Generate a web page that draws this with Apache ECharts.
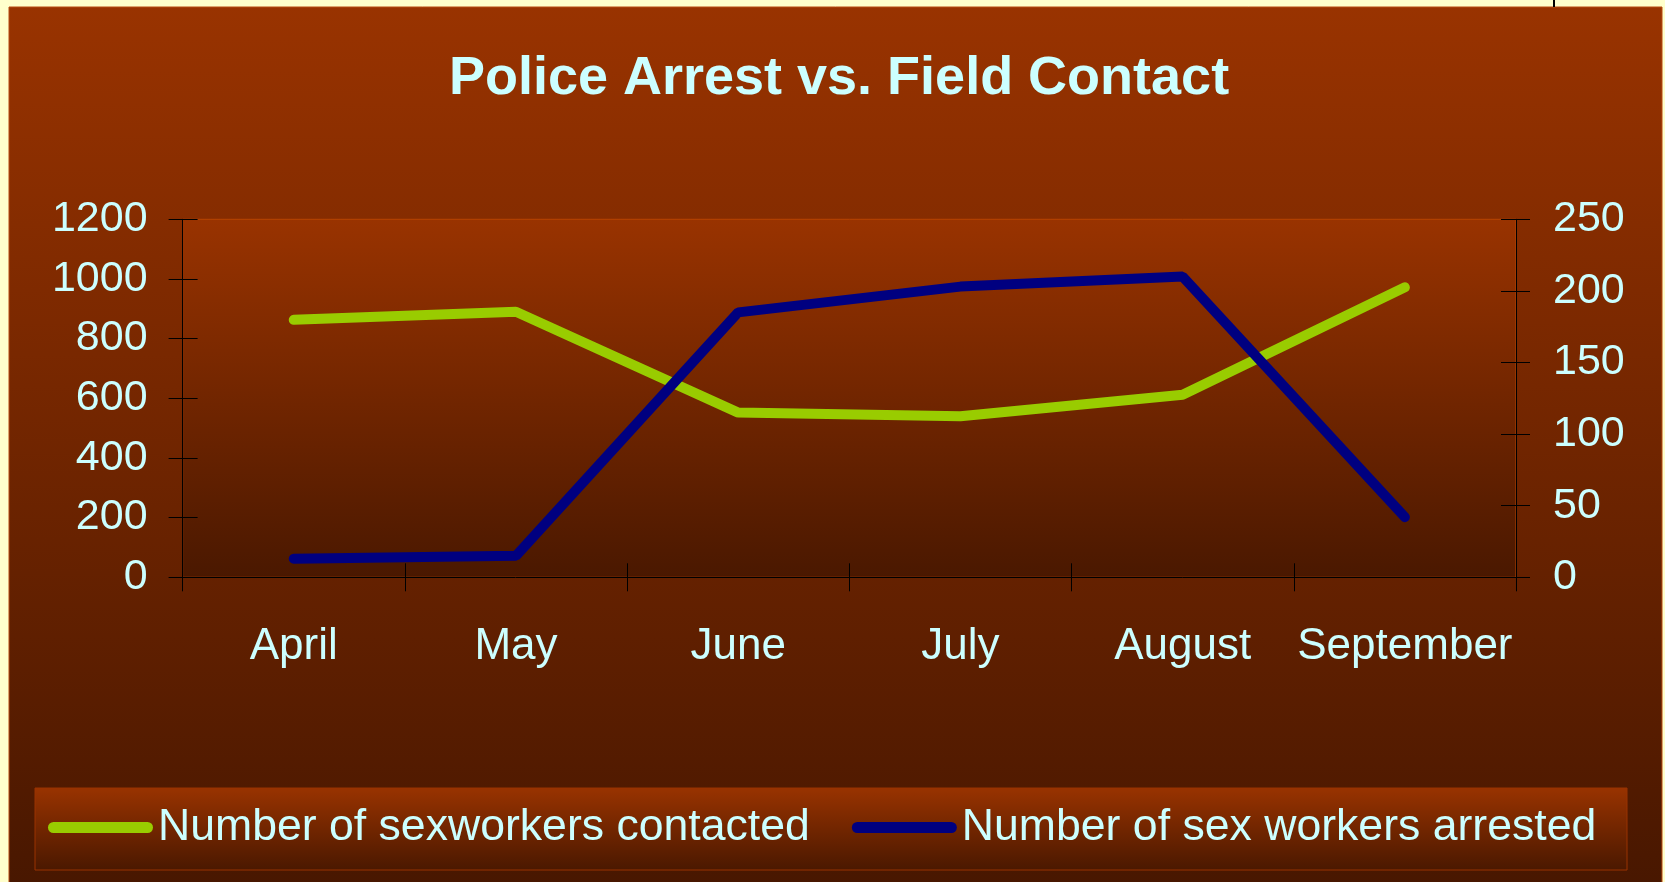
<!DOCTYPE html>
<html>
<head>
<meta charset="utf-8">
<script src="https://cdn.jsdelivr.net/npm/echarts@6/dist/echarts.min.js"></script>
<style>
html,body{margin:0;padding:0;background:#FFFFCC;}
#chart{width:1665px;height:882px;}
</style>
</head>
<body>
<div id="chart"></div>
<script>
const titleText = 'Police Arrest vs. Field Contact';
const months = ['April', 'May', 'June', 'July', 'August', 'September'];
const contactedName = 'Number of sexworkers contacted';
const arrestedName = 'Number of sex workers arrested';
const contacted = [863, 890, 552, 540, 612, 972];
const arrested = [13, 15, 185, 203, 210, 42];
const leftTicks = {min: 0, max: 1200, interval: 200};
const rightTicks = {min: 0, max: 250, interval: 50};

const FONT = '"Liberation Sans", Arial, sans-serif';
const TXT = '#CCFFFF';
const grad = (a, b) => ({type: 'linear', x: 0, y: 0, x2: 0, y2: 1,
  colorStops: [{offset: 0, color: a}, {offset: 1, color: b}]});

const chart = echarts.init(document.getElementById('chart'), null, {renderer: 'canvas'});

function yAx(t, pos, inside, labels, margin) {
  return {
    type: 'value', position: pos, min: t.min, max: t.max, interval: t.interval,
    axisLine: {show: !inside, lineStyle: {color: '#000', width: 1}},
    axisTick: {show: true, inside: inside, length: inside ? 15 : 14, lineStyle: {color: '#000', width: 1}},
    axisLabel: {show: labels, color: TXT, fontFamily: FONT, fontSize: 43, margin: margin,
                formatter: v => String(v)},
    splitLine: {show: false}
  };
}

chart.setOption({
  backgroundColor: '#FFFFCC',
  animation: false,
  graphic: [
    {type: 'rect', z: -100, shape: {x: 9, y: 7, width: 1653, height: 880},
     style: {fill: grad('#993300', '#481700'), stroke: '#b84a10', lineWidth: 1}},
    {type: 'rect', z: -90, shape: {x: 35, y: 788, width: 1592, height: 82},
     style: {fill: grad('#993300', '#4a1800'), stroke: '#993300', lineWidth: 1}},
    {type: 'line', z: -80, shape: {x1: 1554, y1: 0, x2: 1554, y2: 7},
     style: {stroke: '#000', lineWidth: 2}}
  ],
  title: {
    text: titleText, left: 839, top: 52, padding: 0, textAlign: 'center',
    textStyle: {color: TXT, fontFamily: FONT, fontWeight: 'bold', fontSize: 54}
  },
  legend: {
    left: 48, top: 805, padding: 0, itemGap: 42, itemWidth: 105, itemHeight: 11,
    icon: 'path://M5.5,0 L99.5,0 A5.5,5.5 0 0 1 99.5,11 L5.5,11 A5.5,5.5 0 0 1 5.5,0 Z',
    textStyle: {color: TXT, fontFamily: FONT, fontSize: 44.6},
    data: [contactedName, arrestedName]
  },
  grid: {
    left: 182.6, right: 149, top: 219.3, bottom: 304.7, containLabel: false,
    show: true, backgroundColor: grad('#993300', '#4a1800'),
    borderColor: '#b84400', borderWidth: 1
  },
  xAxis: [
    {type: 'category', data: months, boundaryGap: true, position: 'bottom',
     axisLine: {show: true, lineStyle: {color: '#000', width: 1}},
     axisTick: {show: true, interval: 0, length: 14, lineStyle: {color: '#000', width: 1}},
     axisLabel: {interval: 0, color: TXT, fontFamily: FONT, fontSize: 44, margin: 48},
     splitLine: {show: false}},
    {type: 'category', data: months, boundaryGap: true, position: 'bottom',
     axisLine: {show: false},
     axisTick: {show: true, interval: 0, inside: true, length: 14, lineStyle: {color: '#000', width: 1}},
     axisLabel: {show: false, interval: 0}, splitLine: {show: false}}
  ],
  yAxis: [
    yAx(leftTicks, 'left', false, true, 35),
    yAx(rightTicks, 'right', false, true, 37),
    yAx(leftTicks, 'left', true, false, 0),
    yAx(rightTicks, 'right', true, false, 0)
  ],
  series: [
    {name: contactedName, type: 'line', data: contacted, xAxisIndex: 0, yAxisIndex: 0,
     symbol: 'none', showSymbol: false, color: '#99CC00',
     lineStyle: {color: '#99CC00', width: 10, cap: 'round', join: 'bevel'}},
    {name: arrestedName, type: 'line', data: arrested, xAxisIndex: 0, yAxisIndex: 1,
     symbol: 'none', showSymbol: false, color: '#000080',
     lineStyle: {color: '#000080', width: 10, cap: 'round', join: 'bevel'}}
  ]
});
</script>
</body>
</html>
